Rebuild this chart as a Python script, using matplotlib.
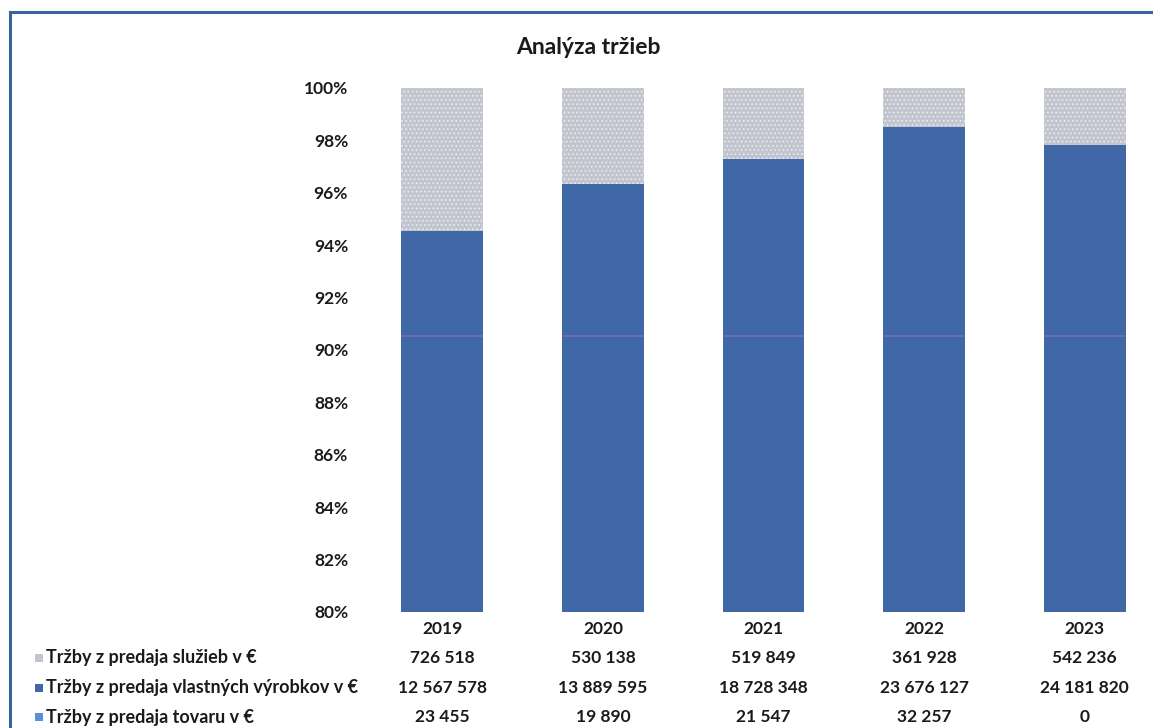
import matplotlib
matplotlib.use('Agg')

import matplotlib.pyplot as plt
from matplotlib.patches import Rectangle

years = ['2019', '2020', '2021', '2022', '2023']
sluzby = [726518, 530138, 519849, 361928, 542236]
vyrobky = [12567578, 13889595, 18728348, 23676127, 24181820]
tovar = [23455, 19890, 21547, 32257, 0]

row_labels = ['Tržby z predaja služieb v €',
              'Tržby z predaja vlastných výrobkov v €',
              'Tržby z predaja tovaru v €']

c_sluzby = '#c2c5ce'
c_vyrobky = '#4068a6'
c_tovar = '#5b8fd6'
c_frame = '#3a64a0'

plt.rcParams['font.family'] = ['Lato', 'DejaVu Sans']
plt.rcParams['hatch.linewidth'] = 0.6


def fmt(v):
    return f'{v:,}'.replace(',', ' ')


def main():
    fig = plt.figure(figsize=(11.53, 7.28), dpi=100)
    W, H = 1153, 728

    # outer chart frame (only left/top edges are in view)
    fig.patches.append(Rectangle((10 / W, -0.1), 1.2, 1 - 12 / H + 0.1,
                                 transform=fig.transFigure, fill=False,
                                 edgecolor=c_frame, lw=2.2))

    ax = fig.add_axes([362 / W, (728 - 612) / H, 803 / W, 524 / H])

    totals = [s + v + t for s, v, t in zip(sluzby, vyrobky, tovar)]
    p_tov = [t / tot * 100 for t, tot in zip(tovar, totals)]
    p_vyr = [v / tot * 100 for v, tot in zip(vyrobky, totals)]
    p_slu = [s / tot * 100 for s, tot in zip(sluzby, totals)]
    x = range(len(years))
    w = 0.51

    ax.bar(x, p_tov, w, color=c_tovar, lw=0)
    ax.bar(x, p_vyr, w, bottom=p_tov, color=c_vyrobky, lw=0)
    bot = [a + b for a, b in zip(p_tov, p_vyr)]
    ax.bar(x, p_slu, w, bottom=bot, color=c_sluzby, lw=0,
           hatch='....', edgecolor='#eef0f4')

    # faint purple streak across the blue columns
    for i in x:
        ax.hlines(90.55, i - w / 2, i + w / 2, color='#8a70c8', lw=1.2,
                  alpha=0.7)

    ax.set_xlim(-0.5, 4.5)
    ax.set_ylim(80, 100)
    ax.set_yticks(range(80, 101, 2))
    ax.set_yticklabels([f'{v}%' for v in range(80, 101, 2)],
                       fontsize=12.5, fontweight='bold', color='#1a1a1a')
    ax.set_xticks([])
    ax.tick_params(axis='y', length=0, pad=10)
    for s in ax.spines.values():
        s.set_visible(False)

    fig.text(588 / W, 1 - 47 / H, 'Analýza tržieb', ha='center',
             va='center', fontsize=16.5, fontweight='bold', color='#1a1a1a')

    # data table under the chart
    row_y = [658, 688, 717]
    rows = [sluzby, vyrobky, tovar]
    colors = [c_sluzby, c_vyrobky, c_tovar]
    for i, yr in enumerate(years):
        xc = ax.transData.transform((i, 0))[0] / W
        fig.text(xc, 1 - 629 / H, yr, ha='center', va='center',
                 fontsize=12.5, fontweight='bold', color='#1a1a1a')
        for vals, ry in zip(rows, row_y):
            fig.text(xc, 1 - ry / H, fmt(vals[i]), ha='center',
                     va='center', fontsize=12.5, fontweight='bold',
                     color='#1a1a1a')
    for lab, col, ry in zip(row_labels, colors, row_y):
        fig.patches.append(Rectangle((35 / W, 1 - (ry + 4) / H), 8 / W,
                                     8 / H, transform=fig.transFigure,
                                     color=col, lw=0))
        fig.text(46 / W, 1 - ry / H, lab, ha='left', va='center',
                 fontsize=13, fontweight='bold', color='#1a1a1a')

    fig.savefig('out.png', dpi=100)


if __name__ == '__main__':
    main()
